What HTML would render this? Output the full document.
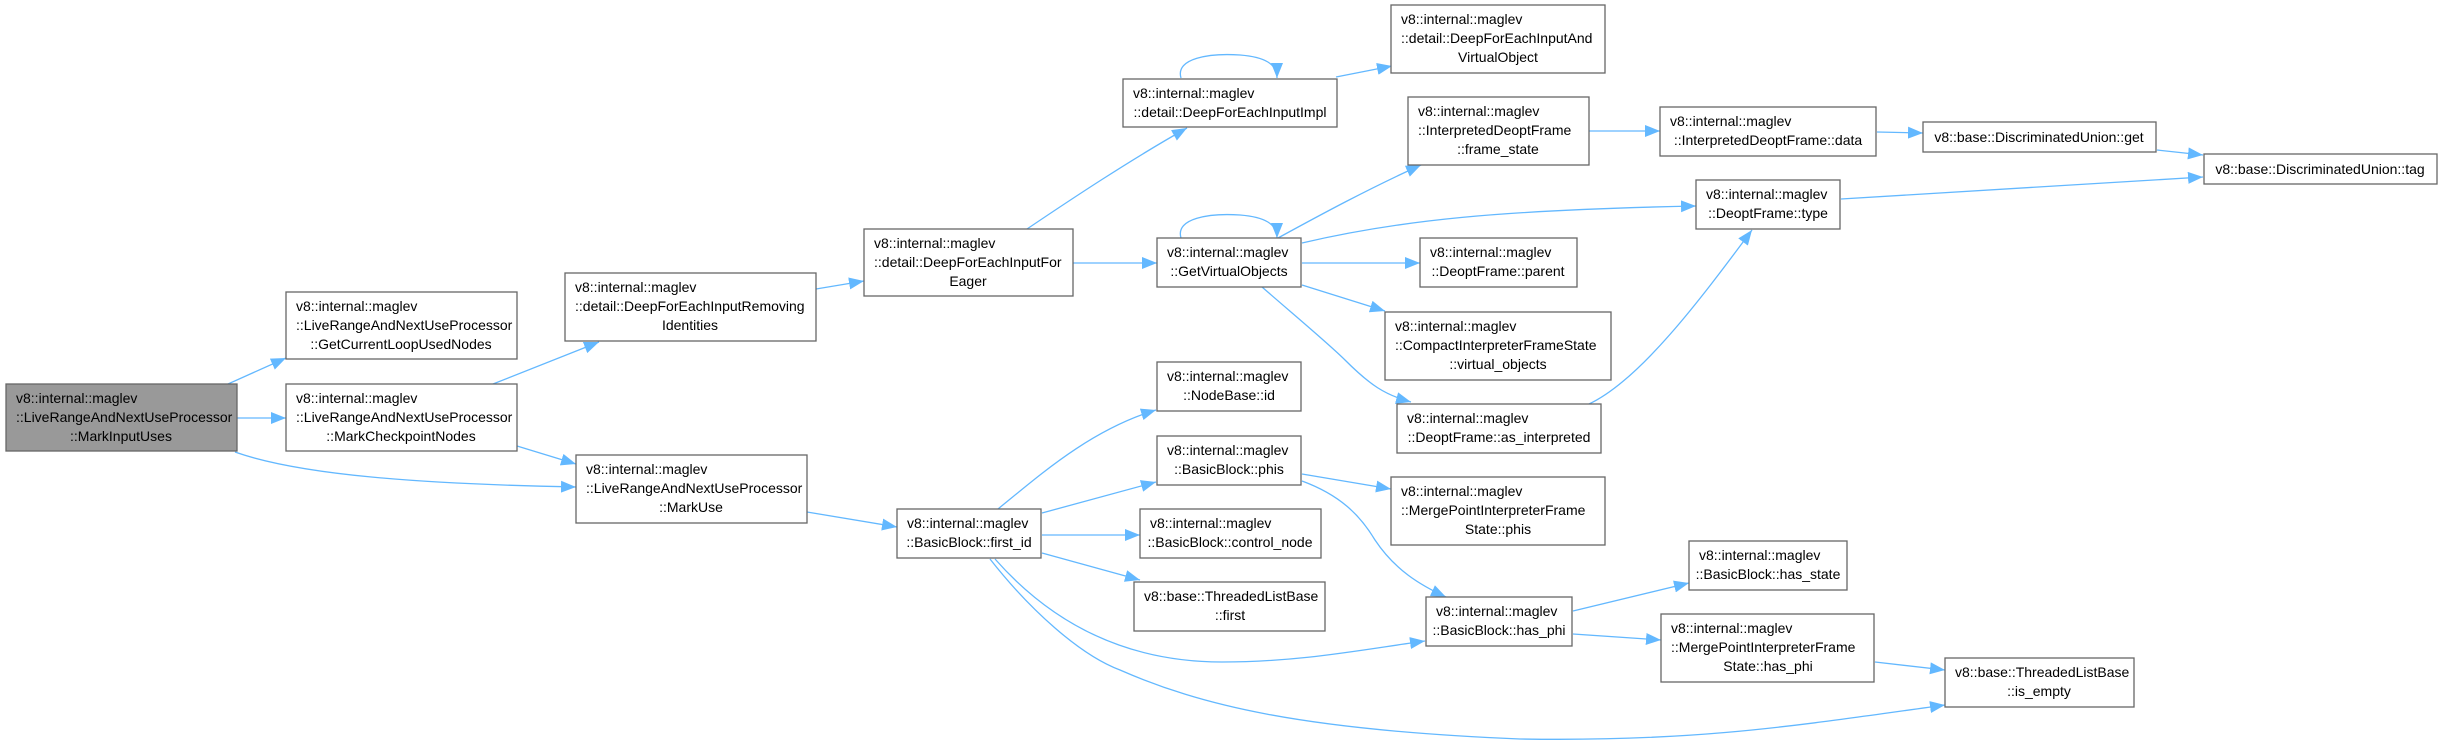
<!DOCTYPE html>
<html><head><meta charset="utf-8"><style>
html,body{margin:0;padding:0;background:#fff;}
svg{display:block;}
text{font-family:"Liberation Sans",sans-serif;font-size:14px;fill:#000;}
.n{fill:#fff;stroke:#666;stroke-width:1.3;}
.g{fill:#999;stroke:#666;stroke-width:1.3;}
.e{fill:none;stroke:#63b8ff;stroke-width:1.3;}
</style></head><body>
<svg width="2442" height="745" viewBox="0 0 2442 745" xmlns="http://www.w3.org/2000/svg">
<defs><marker id="a" markerUnits="userSpaceOnUse" markerWidth="16" markerHeight="12" refX="15" refY="6" orient="auto"><path d="M0,0 L15,6 L0,12 z" fill="#63b8ff"/></marker></defs>
<g class="edges">
<path class="e" marker-end="url(#a)" d="M228,384 L286,358"/>
<path class="e" marker-end="url(#a)" d="M237,418 L286,418"/>
<path class="e" marker-end="url(#a)" d="M235,452 C300,475 420,484 576,487"/>
<path class="e" marker-end="url(#a)" d="M493,384 L599,342"/>
<path class="e" marker-end="url(#a)" d="M517,446 L576,464"/>
<path class="e" marker-end="url(#a)" d="M816,289 L864,281"/>
<path class="e" marker-end="url(#a)" d="M1027,229 C1070,200 1130,160 1187,128"/>
<path class="e" marker-end="url(#a)" d="M1073,263 L1157,263"/>
<path class="e" marker-end="url(#a)" d="M1181,78 C1175,58 1210,53 1240,55 C1265,57 1277,64 1277,78"/>
<path class="e" marker-end="url(#a)" d="M1336,77 L1392,66"/>
<path class="e" marker-end="url(#a)" d="M1181,238 C1175,218 1210,213 1240,215 C1265,217 1277,224 1277,238"/>
<path class="e" marker-end="url(#a)" d="M1278,238 C1320,215 1370,188 1421,165"/>
<path class="e" marker-end="url(#a)" d="M1302,243 C1400,220 1500,210 1696,206"/>
<path class="e" marker-end="url(#a)" d="M1302,263 L1420,263"/>
<path class="e" marker-end="url(#a)" d="M1302,285 L1385,311"/>
<path class="e" marker-end="url(#a)" d="M1262,287 C1300,320 1330,345 1345,360 C1370,385 1385,395 1411,402"/>
<path class="e" marker-end="url(#a)" d="M1589,404 C1640,380 1700,300 1752,230"/>
<path class="e" marker-end="url(#a)" d="M1588,131 L1660,131"/>
<path class="e" marker-end="url(#a)" d="M1877,132 L1923,133"/>
<path class="e" marker-end="url(#a)" d="M2157,150 L2203,155"/>
<path class="e" marker-end="url(#a)" d="M1841,199 L2203,177"/>
<path class="e" marker-end="url(#a)" d="M998,509 C1040,475 1090,430 1156,410"/>
<path class="e" marker-end="url(#a)" d="M1042,513 L1156,482"/>
<path class="e" marker-end="url(#a)" d="M1042,535 L1140,535"/>
<path class="e" marker-end="url(#a)" d="M1042,553 L1140,580"/>
<path class="e" marker-end="url(#a)" d="M995,559 C1040,610 1110,662 1222,662 C1300,662 1360,650 1425,641"/>
<path class="e" marker-end="url(#a)" d="M990,559 C1030,610 1080,655 1120,670 C1200,705 1300,730 1520,739 C1700,742 1800,725 1945,705"/>
<path class="e" marker-end="url(#a)" d="M1302,474 L1391,489"/>
<path class="e" marker-end="url(#a)" d="M1302,481 C1340,495 1360,515 1375,540 C1395,570 1420,585 1446,597"/>
<path class="e" marker-end="url(#a)" d="M1573,611 L1689,583"/>
<path class="e" marker-end="url(#a)" d="M1573,634 L1661,640"/>
<path class="e" marker-end="url(#a)" d="M1875,662 L1945,670"/>
<path class="e" marker-end="url(#a)" d="M807,512 L897,527"/>
</g>
<g>
<rect class="g" x="6" y="384" width="231" height="67"/>
<text x="16" y="403">v8::internal::maglev</text><text x="16" y="422">::LiveRangeAndNextUseProcessor</text><text x="121" y="441" text-anchor="middle">::MarkInputUses</text>

<rect class="n" x="286" y="292" width="231" height="67"/>
<text x="296" y="311">v8::internal::maglev</text><text x="296" y="330">::LiveRangeAndNextUseProcessor</text><text x="401" y="349" text-anchor="middle">::GetCurrentLoopUsedNodes</text>

<rect class="n" x="286" y="384" width="231" height="67"/>
<text x="296" y="403">v8::internal::maglev</text><text x="296" y="422">::LiveRangeAndNextUseProcessor</text><text x="401" y="441" text-anchor="middle">::MarkCheckpointNodes</text>

<rect class="n" x="565" y="273" width="251" height="68"/>
<text x="575" y="292">v8::internal::maglev</text><text x="575" y="311">::detail::DeepForEachInputRemoving</text><text x="690" y="330" text-anchor="middle">Identities</text>

<rect class="n" x="576" y="455" width="231" height="68"/>
<text x="586" y="474">v8::internal::maglev</text><text x="586" y="493">::LiveRangeAndNextUseProcessor</text><text x="691" y="512" text-anchor="middle">::MarkUse</text>

<rect class="n" x="864" y="229" width="209" height="67"/>
<text x="874" y="248">v8::internal::maglev</text><text x="874" y="267">::detail::DeepForEachInputFor</text><text x="968" y="286" text-anchor="middle">Eager</text>

<rect class="n" x="1123" y="79" width="214" height="48"/>
<text x="1133" y="98">v8::internal::maglev</text><text x="1230" y="117" text-anchor="middle">::detail::DeepForEachInputImpl</text>

<rect class="n" x="1391" y="5" width="214" height="68"/>
<text x="1401" y="24">v8::internal::maglev</text><text x="1401" y="43">::detail::DeepForEachInputAnd</text><text x="1498" y="62" text-anchor="middle">VirtualObject</text>

<rect class="n" x="1157" y="238" width="144" height="49"/>
<text x="1167" y="257">v8::internal::maglev</text><text x="1229" y="276" text-anchor="middle">::GetVirtualObjects</text>

<rect class="n" x="1408" y="97" width="181" height="68"/>
<text x="1418" y="116">v8::internal::maglev</text><text x="1418" y="135">::InterpretedDeoptFrame</text><text x="1498" y="154" text-anchor="middle">::frame_state</text>

<rect class="n" x="1660" y="107" width="216" height="49"/>
<text x="1670" y="126">v8::internal::maglev</text><text x="1768" y="145" text-anchor="middle">::InterpretedDeoptFrame::data</text>

<rect class="n" x="1923" y="122" width="233" height="30"/>
<text x="2039" y="142" text-anchor="middle">v8::base::DiscriminatedUnion::get</text>

<rect class="n" x="2204" y="154" width="233" height="30"/>
<text x="2320" y="174" text-anchor="middle">v8::base::DiscriminatedUnion::tag</text>

<rect class="n" x="1696" y="180" width="144" height="49"/>
<text x="1706" y="199">v8::internal::maglev</text><text x="1768" y="218" text-anchor="middle">::DeoptFrame::type</text>

<rect class="n" x="1420" y="238" width="157" height="49"/>
<text x="1430" y="257">v8::internal::maglev</text><text x="1498" y="276" text-anchor="middle">::DeoptFrame::parent</text>

<rect class="n" x="1385" y="312" width="226" height="68"/>
<text x="1395" y="331">v8::internal::maglev</text><text x="1395" y="350">::CompactInterpreterFrameState</text><text x="1498" y="369" text-anchor="middle">::virtual_objects</text>

<rect class="n" x="1397" y="404" width="204" height="49"/>
<text x="1407" y="423">v8::internal::maglev</text><text x="1499" y="442" text-anchor="middle">::DeoptFrame::as_interpreted</text>

<rect class="n" x="1157" y="362" width="144" height="49"/>
<text x="1167" y="381">v8::internal::maglev</text><text x="1229" y="400" text-anchor="middle">::NodeBase::id</text>

<rect class="n" x="1157" y="436" width="144" height="49"/>
<text x="1167" y="455">v8::internal::maglev</text><text x="1229" y="474" text-anchor="middle">::BasicBlock::phis</text>

<rect class="n" x="1391" y="477" width="214" height="68"/>
<text x="1401" y="496">v8::internal::maglev</text><text x="1401" y="515">::MergePointInterpreterFrame</text><text x="1498" y="534" text-anchor="middle">State::phis</text>

<rect class="n" x="897" y="509" width="144" height="49"/>
<text x="907" y="528">v8::internal::maglev</text><text x="969" y="547" text-anchor="middle">::BasicBlock::first_id</text>

<rect class="n" x="1140" y="509" width="181" height="49"/>
<text x="1150" y="528">v8::internal::maglev</text><text x="1230" y="547" text-anchor="middle">::BasicBlock::control_node</text>

<rect class="n" x="1134" y="582" width="191" height="49"/>
<text x="1144" y="601">v8::base::ThreadedListBase</text><text x="1230" y="620" text-anchor="middle">::first</text>

<rect class="n" x="1426" y="597" width="146" height="49"/>
<text x="1436" y="616">v8::internal::maglev</text><text x="1499" y="635" text-anchor="middle">::BasicBlock::has_phi</text>

<rect class="n" x="1689" y="541" width="158" height="49"/>
<text x="1699" y="560">v8::internal::maglev</text><text x="1768" y="579" text-anchor="middle">::BasicBlock::has_state</text>

<rect class="n" x="1661" y="614" width="213" height="68"/>
<text x="1671" y="633">v8::internal::maglev</text><text x="1671" y="652">::MergePointInterpreterFrame</text><text x="1768" y="671" text-anchor="middle">State::has_phi</text>

<rect class="n" x="1945" y="658" width="189" height="49"/>
<text x="1955" y="677">v8::base::ThreadedListBase</text><text x="2039" y="696" text-anchor="middle">::is_empty</text>
</g>
</svg>
</body></html>
